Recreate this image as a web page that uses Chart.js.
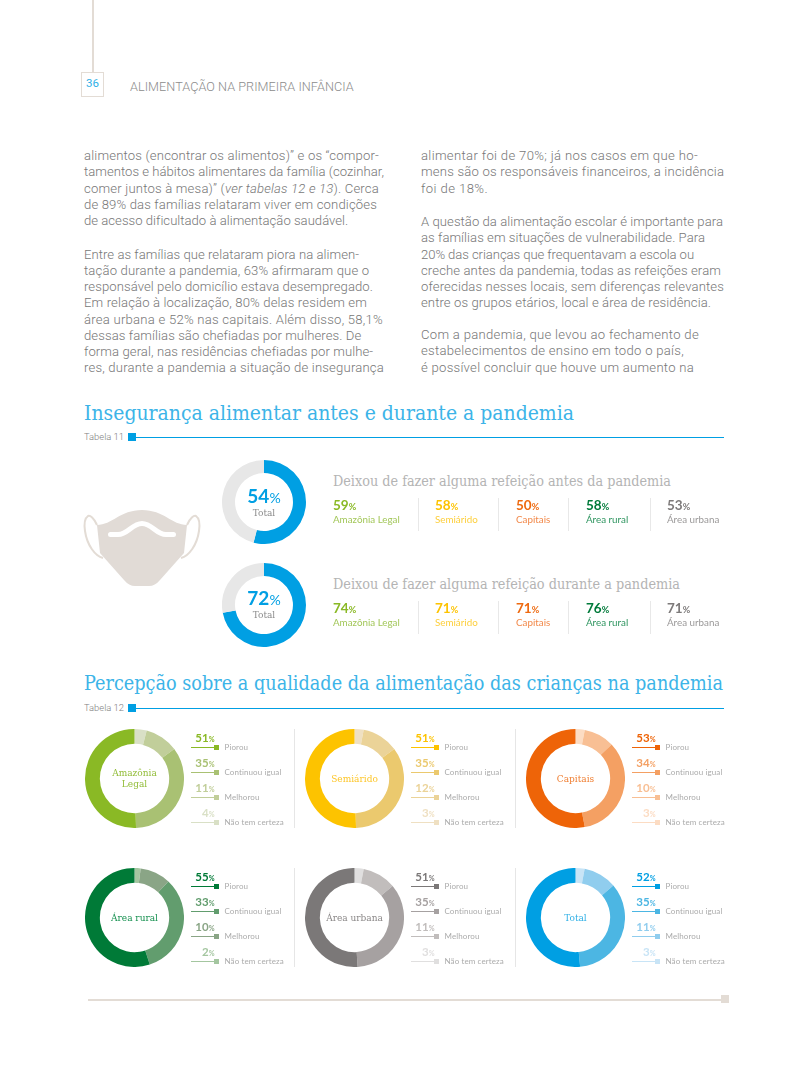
<!DOCTYPE html>
<html lang="pt-BR">
<head>
<meta charset="utf-8">
<title>Alimentação na primeira infância</title>
<script src="https://cdn.jsdelivr.net/npm/chart.js@4/dist/chart.umd.min.js"></script>
<style>
  html, body { margin: 0; padding: 0; background: #fff; }
  #page { position: relative; width: 800px; height: 1067px; overflow: hidden; font-family: Lato, sans-serif; }
  #page > * { position: absolute; }
  .t { white-space: nowrap; transform: translateY(-50%); }
  .r { transform: translate(-100%, -50%); }
  .c { transform: translate(-50%, -50%); text-align: center; }
  .body { font-family: Roboto, sans-serif; font-weight: 300; font-size: 13.1px; line-height: 16.25px; color: #777; white-space: nowrap; }
  .body div { width: max-content; }
  .head { font-family: "DejaVu Serif"; font-stretch: condensed; font-weight: 400; font-size: 21px; color: #3cb4e8; white-space: nowrap; line-height: 1; transform-origin: 0 50%; }
  .sub { font-family: "DejaVu Serif"; font-stretch: condensed; font-weight: 400; font-size: 14px; color: #b4b4b4; white-space: nowrap; line-height: 1; transform-origin: 0 50%; }
  .tab { font: 300 9.4px/1 Roboto, sans-serif; color: #808080; }
  small { font-size: 68%; }
  canvas { display: block; }
</style>
</head>
<body>
<div id="page">
  <!-- cabeçalho -->
  <div style="left:92px;top:0;width:2px;height:72px;background:#e3dcd5"></div>
  <div style="left:81px;top:72px;width:21px;height:23px;border:1px solid #e3dcd5"></div>
  <div class="t c" style="left:92.500px;top:84px;font:400 11.5px/1 Roboto,sans-serif;color:#2fb0e6">36</div>
  <div class="t" style="left:130px;top:87px;font:300 12.65px/1 Roboto,sans-serif;letter-spacing:0.05px;color:#8c8c8c">ALIMENTAÇÃO NA PRIMEIRA INFÂNCIA</div>

  <!-- texto em duas colunas: data-e é onde a linha termina -->
  <div class="body" style="left:84px;top:148px">
    <div data-e="379">alimentos (encontrar os alimentos)” e os “compor-</div>
    <div data-e="384">tamentos e hábitos alimentares da família (cozinhar,</div>
    <div data-e="379">comer juntos à mesa)” (<i>ver tabelas 12 e 13</i>). Cerca</div>
    <div data-e="377">de 89% das famílias relataram viver em condições</div>
    <div data-e="348">de acesso dificultado à alimentação saudável.</div>
  </div>
  <div class="body" style="left:84px;top:246.500px">
    <div data-e="359">Entre as famílias que relataram piora na alimen-</div>
    <div data-e="369">tação durante a pandemia, 63% afirmaram que o</div>
    <div data-e="373">responsável pelo domicílio estava desempregado.</div>
    <div data-e="367">Em relação à localização, 80% delas residem em</div>
    <div data-e="383">área urbana e 52% nas capitais. Além disso, 58,1%</div>
    <div data-e="361">dessas famílias são chefiadas por mulheres. De</div>
    <div data-e="373">forma geral, nas residências chefiadas por mulhe-</div>
    <div data-e="384">res, durante a pandemia a situação de insegurança</div>
  </div>
  <div class="body" style="left:421px;top:148px">
    <div data-e="698">alimentar foi de 70%; já nos casos em que ho-</div>
    <div data-e="724">mens são os responsáveis financeiros, a incidência</div>
    <div data-e="488">foi de 18%.</div>
  </div>
  <div class="body" style="left:421px;top:214px">
    <div data-e="723">A questão da alimentação escolar é importante para</div>
    <div data-e="705">as famílias em situações de vulnerabilidade. Para</div>
    <div data-e="694">20% das crianças que frequentavam a escola ou</div>
    <div data-e="721">creche antes da pandemia, todas as refeições eram</div>
    <div data-e="724">oferecidas nesses locais, sem diferenças relevantes</div>
    <div data-e="711">entre os grupos etários, local e área de residência.</div>
  </div>
  <div class="body" style="left:421px;top:327px">
    <div data-e="699">Com a pandemia, que levou ao fechamento de</div>
    <div data-e="684">estabelecimentos de ensino em todo o país,</div>
    <div data-e="694">é possível concluir que houve um aumento na</div>
  </div>

  <!-- títulos das tabelas -->
  <div class="head fit" data-w="490" style="left:84px;top:403px">Insegurança alimentar antes e durante a pandemia</div>
  <div class="t tab" style="left:84px;top:437px">Tabela 11</div>
  <div style="left:128px;top:433px;width:8px;height:8px;background:#009fe3"></div>
  <div style="left:136px;top:436.5px;width:588px;height:1.5px;background:#009fe3"></div>

  <div class="head fit" data-w="639" style="left:84px;top:673px">Percepção sobre a qualidade da alimentação das crianças na pandemia</div>
  <div class="t tab" style="left:84px;top:708px">Tabela 12</div>
  <div style="left:128px;top:704px;width:8px;height:8px;background:#009fe3"></div>
  <div style="left:136px;top:707.5px;width:588px;height:1.5px;background:#009fe3"></div>

  <!-- máscara -->
  <svg style="left:0;top:0" width="800" height="1067" fill="none">
    <path d="M97 525C94 518 90 515 88 516C85 518 84 524 85 531C87 545 95 556 103 558" stroke="#e3dcd5" stroke-width="2"/>
    <path d="M187 525C190 518 194 515 196 516C199 518 200 524 199 531C197 545 189 556 181 558" stroke="#e3dcd5" stroke-width="2"/>
    <path d="M97 525C112 525 120 510 142 510C164 510 172 525 187 525L184 553L160 580Q155 586 149 586L135 586Q129 586 124 580L100 553Z" fill="#e1dbd6"/>
    <path d="M110.500 534.500L118 534.500C128 534.500 132 523.500 142 523.500C152 523.500 156 534.500 166 534.500L173.500 534.500" stroke="#fff" stroke-width="5" stroke-linecap="round"/>
  </svg>

  <!-- rodapé -->
  <div style="left:88px;top:999px;width:634px;height:2px;background:#e3dcd5"></div>
  <div style="left:721px;top:995px;width:8px;height:8px;background:#e3dcd5"></div>
</div>

<script>
/* ==== DADOS ==== */
const totalPercent = [54, 72];
const periodTitles = [
  "Deixou de fazer alguma refeição antes da pandemia",
  "Deixou de fazer alguma refeição durante a pandemia"
];
const statLabels = ["Amazônia Legal", "Semiárido", "Capitais", "Área rural", "Área urbana"];
const statBefore = [59, 58, 50, 58, 53];
const statDuring = [74, 71, 71, 76, 71];

const groups = ["Amazônia Legal", "Semiárido", "Capitais", "Área rural", "Área urbana", "Total"];
const answers = ["Piorou", "Continuou igual", "Melhorou", "Não tem certeza"];
const piorou = [51, 51, 53, 55, 51, 52];
const continuou = [35, 35, 34, 33, 35, 35];
const melhorou = [11, 12, 10, 10, 11, 11];
const semCerteza = [4, 3, 3, 2, 3, 3];

/* ==== CORES ==== */
const statColors = ["#8ab925", "#fdc300", "#ee6a10", "#007a3a", "#7d7a7a"];
const statLabelColors = ["#a3c75a", "#fdcf3d", "#f2894a", "#2f9560", "#9b9999"];
const groupColors = [
  ["#8ab925", "#a9c173", "#c1ce9a", "#d9e0c6"],
  ["#fdc300", "#ebc96e", "#ebd398", "#efe0c2"],
  ["#ee6408", "#f4a063", "#f8bf94", "#fcdcc3"],
  ["#007a37", "#629d6e", "#8aa586", "#a4c6a0"],
  ["#7b7878", "#a6a1a1", "#c1bdbc", "#e0dfdf"],
  ["#009fe3", "#4cb6e3", "#90cdee", "#c8e4f6"]
];
const groupTextColors = ["#93bd3a", "#fdc62a", "#f08035", "#15904f", "#8a8787", "#2fb0e6"];

const page = document.getElementById("page");

function addText(x, y, html, css, cls) {
  const el = document.createElement("div");
  el.className = "t " + (cls || "");
  el.style.cssText = "left:" + x + "px;top:" + y + "px;" + css;
  el.innerHTML = html;
  page.appendChild(el);
  return el;
}

function addBox(x, y, w, h, color) {
  const el = document.createElement("div");
  el.style.cssText = "left:" + x + "px;top:" + y + "px;width:" + w + "px;height:" + h + "px;background:" + color;
  page.appendChild(el);
}

function addDonut(x, y, size, values, colors, cutout) {
  const canvas = document.createElement("canvas");
  canvas.width = size;
  canvas.height = size;
  canvas.style.cssText = "left:" + x + "px;top:" + y + "px;width:" + size + "px;height:" + size + "px";
  page.appendChild(canvas);
  new Chart(canvas.getContext("2d"), {
    type: "doughnut",
    data: { datasets: [{ data: values, backgroundColor: colors, borderWidth: 0 }] },
    options: {
      responsive: false,
      animation: false,
      cutout: cutout,
      plugins: { legend: { display: false }, tooltip: { enabled: false } }
    }
  });
}

/* ==== 1. TABELA 11 ==== */
const rowTops = [460, 562.5];
const statX = [333, 435, 516, 586, 667];
const dividerX = [418, 498, 568, 650];
[statBefore, statDuring].forEach((stats, i) => {
  const top = rowTops[i];
  addDonut(222, top, 84, [totalPercent[i], 100 - totalPercent[i]], ["#009fe3", "#e7e7e7"], "69%");
  addText(264, top + 35.5, totalPercent[i] + "<small style='font-size:74%;font-weight:400'>%</small>", "font:700 19px/1 Lato,sans-serif;color:#009fe3", "c");
  addText(264, top + 52.5, "Total", "font:400 10px/1 'DejaVu Serif';font-stretch:condensed;color:#8b8b8b", "c");

  const title = document.createElement("div");
  title.className = "sub fit";
  title.dataset.w = i === 0 ? 338 : 347;
  title.style.cssText = "left:333px;top:" + (top + 14) + "px";
  title.textContent = periodTitles[i];
  page.appendChild(title);

  stats.forEach((value, j) => {
    addText(statX[j], top + 46, value + "<small>%</small>", "font:700 13.5px/1 Lato,sans-serif;color:" + statColors[j]);
    addText(statX[j], top + 60, statLabels[j], "font:400 9.8px/1 Lato,sans-serif;color:" + statLabelColors[j]);
  });
  dividerX.forEach(x => addBox(x, top + 38, 1, 33, "#e8e8e8"));
});

/* ==== 2. TABELA 12 ==== */
const donutX = [85, 305, 526, 85, 305, 526];
const donutY = [729, 729, 729, 868, 868, 868];
const legendRowY = [18, 43, 68, 93];

groups.forEach((group, g) => {
  const left = donutX[g];
  const top = donutY[g];
  const colors = groupColors[g];
  const values = [piorou[g], continuou[g], melhorou[g], semCerteza[g]];

  // sentido horário a partir do topo: não tem certeza, melhorou, continuou, piorou
  addDonut(left, top, 99, values.slice().reverse(), colors.slice().reverse(), "70%");

  const center = group === "Amazônia Legal" ? "Amazônia<br>Legal" : group;
  addText(left + 49.5, top + 49, center, "font:400 10px/11px 'DejaVu Serif';font-stretch:condensed;color:" + groupTextColors[g], "c");

  const lineX = left + 106;
  answers.forEach((answer, a) => {
    const y = top + legendRowY[a];
    addText(lineX + 23.5, y - 9, values[a] + "<small style='font-size:62%'>%</small>", "font:700 11.5px/1 Lato,sans-serif;color:" + colors[a], "r");
    addBox(lineX, y - 0.5, 24, 1.2, colors[a]);
    addBox(lineX + 23, y - 2.5, 5, 5, colors[a]);
    addText(lineX + 33.5, y - 0.5, answer, "font:400 8px/1 Lato,sans-serif;letter-spacing:0.1px;color:#ababab");
  });
});

[294, 515].forEach(x => {
  addBox(x, 729, 1, 99, "#e6e6e6");
  addBox(x, 868, 1, 99, "#e6e6e6");
});

/* ==== 3. AJUSTE DE LARGURA DOS TEXTOS ==== */
document.querySelectorAll(".fit").forEach(el => {
  const scale = Number(el.dataset.w) / el.getBoundingClientRect().width;
  el.style.transform = "scaleX(" + scale + ")";
});

document.querySelectorAll(".body div").forEach(line => {
  const box = line.getBoundingClientRect();
  const spacing = (Number(line.dataset.e) - box.right) / line.textContent.length;
  line.style.letterSpacing = spacing.toFixed(3) + "px";
});
</script>
</body>
</html>
